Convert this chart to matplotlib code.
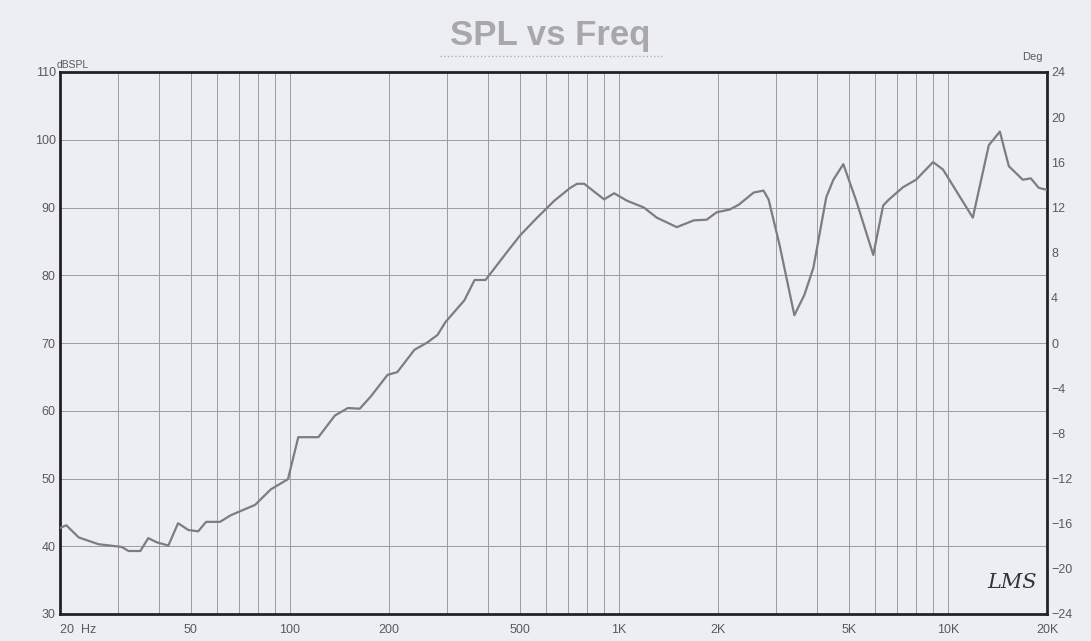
import numpy as np
import matplotlib
matplotlib.use("Agg")
import matplotlib.pyplot as plt
from matplotlib.ticker import FixedLocator, NullLocator

plt.rcParams['font.family'] = ['Liberation Sans', 'DejaVu Sans']

# ── Data ────────────────────────────────────────────────────────────────
freq_hz = [20, 20.9, 22.8, 26.2, 30.8, 32.3, 35.1, 37.1, 39.3, 42.7,
           45.7, 49.1, 52.6, 55.6, 61.3, 66.2, 78.3, 87.5, 98.6, 106,
           122, 137, 150, 163, 176, 198, 212, 239, 262, 281,
           297, 339, 364, 393, 458, 501, 564, 636, 711, 746,
           784, 901, 967, 1058, 1190, 1303, 1499, 1688, 1848, 1982,
           2170, 2311, 2566, 2749, 2849, 3076, 3413, 3661, 3899, 4266,
           4484, 4808, 5262, 5929, 6354, 6622, 7305, 8000, 9010, 9660,
           11900, 13310, 14380, 15310, 16880, 17860, 18880, 20000]
spl_db = [42.7, 43.1, 41.3, 40.3, 39.9, 39.3, 39.3, 41.2, 40.6, 40.1,
          43.4, 42.4, 42.2, 43.6, 43.6, 44.6, 46.1, 48.4, 49.9, 56.1,
          56.1, 59.3, 60.4, 60.3, 62.1, 65.3, 65.7, 69.0, 70.1, 71.2,
          73.1, 76.3, 79.3, 79.3, 83.5, 85.9, 88.5, 91.0, 92.9, 93.5,
          93.5, 91.2, 92.1, 91.0, 90.0, 88.5, 87.1, 88.1, 88.2, 89.3,
          89.7, 90.4, 92.2, 92.5, 91.2, 84.5, 74.1, 77.1, 81.1, 91.5,
          94.1, 96.4, 91.0, 83.0, 90.3, 91.2, 93.0, 94.1, 96.7, 95.6,
          88.5, 99.2, 101.2, 96.1, 94.1, 94.3, 92.9, 92.6]

x_tick_vals = [20, 50, 100, 200, 500, 1000, 2000, 5000, 10000, 20000]
x_tick_labels = ["20  Hz", "50", "100", "200", "500", "1K", "2K", "5K", "10K", "20K"]
spl_ticks = list(range(30, 111, 10))
deg_ticks = list(range(-24, 25, 4))

PAPER = "#eceef4"
GRID = "#9c9c9c"
TXT = "#5a5a5a"

fig = plt.figure(figsize=(10.91, 6.41), dpi=100, facecolor=PAPER)
ax = fig.add_axes([60 / 1091, 1 - 614 / 641, (1047 - 60) / 1091, (614 - 72) / 641])
ax.set_facecolor(PAPER)

ax.set_xscale("log")
ax.set_xlim(20, 20000)
ax.set_ylim(30, 110)

# log grid: every 1..9 x decade
grid_x = [m * d for d in (10, 100, 1000, 10000) for m in range(1, 10)]
grid_x = [g for g in grid_x if 20 < g < 20000]
for g in grid_x:
    ax.axvline(g, color=GRID, lw=0.7, zorder=1)
for yv in spl_ticks[1:-1]:
    ax.axhline(yv, color=GRID, lw=0.7, zorder=1)

ax.plot(freq_hz, spl_db, color="#7d7d7d", lw=1.6, zorder=3)

ax.xaxis.set_major_locator(FixedLocator(x_tick_vals))
ax.xaxis.set_minor_locator(NullLocator())
ax.set_xticklabels(x_tick_labels)
ax.get_xticklabels()[0].set_horizontalalignment("left")
ax.tick_params(axis="x", length=0, labelsize=9, colors=TXT, pad=7)
ax.set_yticks(spl_ticks)
ax.tick_params(axis="y", length=0, labelsize=9, colors=TXT, pad=3)

for sp in ax.spines.values():
    sp.set_linewidth(2.0)
    sp.set_color("#222222")

ax2 = ax.twinx()
ax2.set_ylim(-24, 24)
ax2.set_yticks(deg_ticks)
ax2.tick_params(axis="y", length=0, labelsize=9, colors=TXT, pad=3)
for sp in ax2.spines.values():
    sp.set_visible(False)

fig.text(57 / 1091, 1 - 70 / 641, "dBSPL", fontsize=7.5, color=TXT, ha="left", va="bottom")
fig.text(1043 / 1091, 1 - 62 / 641, "Deg", fontsize=8, color=TXT, ha="right", va="bottom")
fig.text(550 / 1091, 1 - 36 / 641, "SPL vs Freq", fontsize=25, fontweight="bold",
         color="#a8a8a8", ha="center", va="center")
fig.lines.append(plt.Line2D([440 / 1091, 662 / 1091], [1 - 56 / 641, 1 - 56 / 641],
                            transform=fig.transFigure, color="#b0b0b0", lw=1.0, ls=":"))
fig.text(1012 / 1091, 1 - 583 / 641, "LMS", fontsize=15, fontstyle="italic",
         color="#333333", ha="center", va="center", family="DejaVu Serif")

fig.savefig("out.png", dpi=100, facecolor=PAPER)
